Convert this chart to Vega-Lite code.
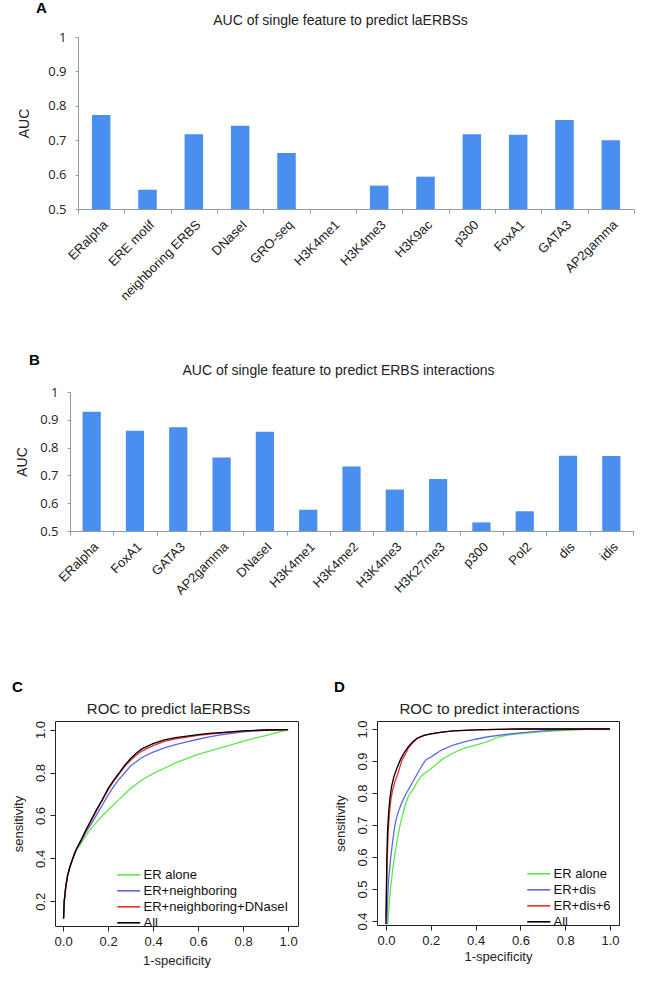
{
  "$schema": "https://vega.github.io/schema/vega-lite/v6.json",
  "padding": {"left": 11, "top": 1, "right": 0, "bottom": 0},
  "background": "white",
  "config": {
    "font": "Liberation Sans",
    "view": {"stroke": null},
    "axis": {"grid": false, "labelFont": "Liberation Sans", "titleFont": "Liberation Sans", "titleFontWeight": "normal", "labelColor": "#222", "titleColor": "#222"},
    "title": {"font": "Liberation Sans", "color": "#000"}
  },
  "datasets": {
    "aucA": [
      {"feature": "ERalpha", "auc": 0.773},
      {"feature": "ERE motif", "auc": 0.556},
      {"feature": "neighboring ERBS", "auc": 0.717},
      {"feature": "DNaseI", "auc": 0.742},
      {"feature": "GRO-seq", "auc": 0.663},
      {"feature": "H3K4me1", "auc": 0.5},
      {"feature": "H3K4me3", "auc": 0.568},
      {"feature": "H3K9ac", "auc": 0.594},
      {"feature": "p300", "auc": 0.717},
      {"feature": "FoxA1", "auc": 0.716},
      {"feature": "GATA3", "auc": 0.759},
      {"feature": "AP2gamma", "auc": 0.7}
    ],
    "aucB": [
      {"feature": "ERalpha", "auc": 0.929},
      {"feature": "FoxA1", "auc": 0.861},
      {"feature": "GATA3", "auc": 0.873},
      {"feature": "AP2gamma", "auc": 0.764},
      {"feature": "DNaseI", "auc": 0.857},
      {"feature": "H3K4me1", "auc": 0.576},
      {"feature": "H3K4me2", "auc": 0.732},
      {"feature": "H3K4me3", "auc": 0.649},
      {"feature": "H3K27me3", "auc": 0.687},
      {"feature": "p300", "auc": 0.531},
      {"feature": "Pol2", "auc": 0.571},
      {"feature": "dis", "auc": 0.771},
      {"feature": "idis", "auc": 0.77}
    ],
    "rocC": [
      {"model": "ER alone", "fpr": 0.002, "tpr": 0.12},
      {"model": "ER alone", "fpr": 0.005, "tpr": 0.2},
      {"model": "ER alone", "fpr": 0.012, "tpr": 0.27},
      {"model": "ER alone", "fpr": 0.02, "tpr": 0.32},
      {"model": "ER alone", "fpr": 0.03, "tpr": 0.36},
      {"model": "ER alone", "fpr": 0.04, "tpr": 0.39},
      {"model": "ER alone", "fpr": 0.05, "tpr": 0.415},
      {"model": "ER alone", "fpr": 0.06, "tpr": 0.44},
      {"model": "ER alone", "fpr": 0.08, "tpr": 0.47},
      {"model": "ER alone", "fpr": 0.1, "tpr": 0.505},
      {"model": "ER alone", "fpr": 0.125, "tpr": 0.54},
      {"model": "ER alone", "fpr": 0.15, "tpr": 0.57},
      {"model": "ER alone", "fpr": 0.175, "tpr": 0.6},
      {"model": "ER alone", "fpr": 0.2, "tpr": 0.625},
      {"model": "ER alone", "fpr": 0.25, "tpr": 0.675},
      {"model": "ER alone", "fpr": 0.3, "tpr": 0.725},
      {"model": "ER alone", "fpr": 0.35, "tpr": 0.765},
      {"model": "ER alone", "fpr": 0.4, "tpr": 0.795},
      {"model": "ER alone", "fpr": 0.45, "tpr": 0.82},
      {"model": "ER alone", "fpr": 0.5, "tpr": 0.845},
      {"model": "ER alone", "fpr": 0.55, "tpr": 0.865},
      {"model": "ER alone", "fpr": 0.6, "tpr": 0.885},
      {"model": "ER alone", "fpr": 0.65, "tpr": 0.9},
      {"model": "ER alone", "fpr": 0.7, "tpr": 0.915},
      {"model": "ER alone", "fpr": 0.75, "tpr": 0.93},
      {"model": "ER alone", "fpr": 0.8, "tpr": 0.945},
      {"model": "ER alone", "fpr": 0.85, "tpr": 0.96},
      {"model": "ER alone", "fpr": 0.9, "tpr": 0.972},
      {"model": "ER alone", "fpr": 0.95, "tpr": 0.986},
      {"model": "ER alone", "fpr": 1.0, "tpr": 1.0},
      {"model": "ER+neighboring", "fpr": 0.002, "tpr": 0.12},
      {"model": "ER+neighboring", "fpr": 0.005, "tpr": 0.2},
      {"model": "ER+neighboring", "fpr": 0.012, "tpr": 0.27},
      {"model": "ER+neighboring", "fpr": 0.02, "tpr": 0.32},
      {"model": "ER+neighboring", "fpr": 0.03, "tpr": 0.36},
      {"model": "ER+neighboring", "fpr": 0.04, "tpr": 0.39},
      {"model": "ER+neighboring", "fpr": 0.05, "tpr": 0.42},
      {"model": "ER+neighboring", "fpr": 0.06, "tpr": 0.445},
      {"model": "ER+neighboring", "fpr": 0.08, "tpr": 0.48},
      {"model": "ER+neighboring", "fpr": 0.1, "tpr": 0.52},
      {"model": "ER+neighboring", "fpr": 0.125, "tpr": 0.56},
      {"model": "ER+neighboring", "fpr": 0.15, "tpr": 0.605},
      {"model": "ER+neighboring", "fpr": 0.175, "tpr": 0.65},
      {"model": "ER+neighboring", "fpr": 0.2, "tpr": 0.695},
      {"model": "ER+neighboring", "fpr": 0.225, "tpr": 0.735},
      {"model": "ER+neighboring", "fpr": 0.25, "tpr": 0.77},
      {"model": "ER+neighboring", "fpr": 0.275, "tpr": 0.8},
      {"model": "ER+neighboring", "fpr": 0.3, "tpr": 0.83},
      {"model": "ER+neighboring", "fpr": 0.35, "tpr": 0.87},
      {"model": "ER+neighboring", "fpr": 0.4, "tpr": 0.895},
      {"model": "ER+neighboring", "fpr": 0.45, "tpr": 0.915},
      {"model": "ER+neighboring", "fpr": 0.5, "tpr": 0.93},
      {"model": "ER+neighboring", "fpr": 0.55, "tpr": 0.943},
      {"model": "ER+neighboring", "fpr": 0.6, "tpr": 0.955},
      {"model": "ER+neighboring", "fpr": 0.65, "tpr": 0.966},
      {"model": "ER+neighboring", "fpr": 0.7, "tpr": 0.975},
      {"model": "ER+neighboring", "fpr": 0.8, "tpr": 0.99},
      {"model": "ER+neighboring", "fpr": 0.9, "tpr": 0.997},
      {"model": "ER+neighboring", "fpr": 1.0, "tpr": 1.0},
      {"model": "ER+neighboring+DNaseI", "fpr": 0.002, "tpr": 0.12},
      {"model": "ER+neighboring+DNaseI", "fpr": 0.005, "tpr": 0.2},
      {"model": "ER+neighboring+DNaseI", "fpr": 0.012, "tpr": 0.27},
      {"model": "ER+neighboring+DNaseI", "fpr": 0.02, "tpr": 0.32},
      {"model": "ER+neighboring+DNaseI", "fpr": 0.03, "tpr": 0.36},
      {"model": "ER+neighboring+DNaseI", "fpr": 0.04, "tpr": 0.39},
      {"model": "ER+neighboring+DNaseI", "fpr": 0.05, "tpr": 0.42},
      {"model": "ER+neighboring+DNaseI", "fpr": 0.06, "tpr": 0.445},
      {"model": "ER+neighboring+DNaseI", "fpr": 0.08, "tpr": 0.485},
      {"model": "ER+neighboring+DNaseI", "fpr": 0.1, "tpr": 0.525},
      {"model": "ER+neighboring+DNaseI", "fpr": 0.125, "tpr": 0.575},
      {"model": "ER+neighboring+DNaseI", "fpr": 0.15, "tpr": 0.625},
      {"model": "ER+neighboring+DNaseI", "fpr": 0.175, "tpr": 0.672},
      {"model": "ER+neighboring+DNaseI", "fpr": 0.2, "tpr": 0.72},
      {"model": "ER+neighboring+DNaseI", "fpr": 0.225, "tpr": 0.76},
      {"model": "ER+neighboring+DNaseI", "fpr": 0.25, "tpr": 0.795},
      {"model": "ER+neighboring+DNaseI", "fpr": 0.275, "tpr": 0.83},
      {"model": "ER+neighboring+DNaseI", "fpr": 0.3, "tpr": 0.857},
      {"model": "ER+neighboring+DNaseI", "fpr": 0.325, "tpr": 0.88},
      {"model": "ER+neighboring+DNaseI", "fpr": 0.35, "tpr": 0.9},
      {"model": "ER+neighboring+DNaseI", "fpr": 0.4, "tpr": 0.925},
      {"model": "ER+neighboring+DNaseI", "fpr": 0.45, "tpr": 0.945},
      {"model": "ER+neighboring+DNaseI", "fpr": 0.5, "tpr": 0.957},
      {"model": "ER+neighboring+DNaseI", "fpr": 0.55, "tpr": 0.965},
      {"model": "ER+neighboring+DNaseI", "fpr": 0.6, "tpr": 0.973},
      {"model": "ER+neighboring+DNaseI", "fpr": 0.65, "tpr": 0.979},
      {"model": "ER+neighboring+DNaseI", "fpr": 0.7, "tpr": 0.984},
      {"model": "ER+neighboring+DNaseI", "fpr": 0.8, "tpr": 0.993},
      {"model": "ER+neighboring+DNaseI", "fpr": 0.9, "tpr": 0.998},
      {"model": "ER+neighboring+DNaseI", "fpr": 1.0, "tpr": 1.0},
      {"model": "All", "fpr": 0.002, "tpr": 0.12},
      {"model": "All", "fpr": 0.005, "tpr": 0.2},
      {"model": "All", "fpr": 0.012, "tpr": 0.27},
      {"model": "All", "fpr": 0.02, "tpr": 0.32},
      {"model": "All", "fpr": 0.03, "tpr": 0.36},
      {"model": "All", "fpr": 0.04, "tpr": 0.39},
      {"model": "All", "fpr": 0.05, "tpr": 0.42},
      {"model": "All", "fpr": 0.06, "tpr": 0.445},
      {"model": "All", "fpr": 0.08, "tpr": 0.485},
      {"model": "All", "fpr": 0.1, "tpr": 0.53},
      {"model": "All", "fpr": 0.125, "tpr": 0.58},
      {"model": "All", "fpr": 0.15, "tpr": 0.63},
      {"model": "All", "fpr": 0.175, "tpr": 0.675},
      {"model": "All", "fpr": 0.2, "tpr": 0.725},
      {"model": "All", "fpr": 0.225, "tpr": 0.765},
      {"model": "All", "fpr": 0.25, "tpr": 0.8},
      {"model": "All", "fpr": 0.275, "tpr": 0.835},
      {"model": "All", "fpr": 0.3, "tpr": 0.865},
      {"model": "All", "fpr": 0.325, "tpr": 0.89},
      {"model": "All", "fpr": 0.35, "tpr": 0.91},
      {"model": "All", "fpr": 0.4, "tpr": 0.935},
      {"model": "All", "fpr": 0.45, "tpr": 0.952},
      {"model": "All", "fpr": 0.5, "tpr": 0.963},
      {"model": "All", "fpr": 0.55, "tpr": 0.97},
      {"model": "All", "fpr": 0.6, "tpr": 0.977},
      {"model": "All", "fpr": 0.65, "tpr": 0.982},
      {"model": "All", "fpr": 0.7, "tpr": 0.986},
      {"model": "All", "fpr": 0.8, "tpr": 0.994},
      {"model": "All", "fpr": 0.9, "tpr": 0.998},
      {"model": "All", "fpr": 1.0, "tpr": 1.0}
    ],
    "rocD": [
      {"model": "ER alone", "fpr": 0.008, "tpr": 0.39},
      {"model": "ER alone", "fpr": 0.014, "tpr": 0.45},
      {"model": "ER alone", "fpr": 0.02, "tpr": 0.5},
      {"model": "ER alone", "fpr": 0.03, "tpr": 0.56},
      {"model": "ER alone", "fpr": 0.04, "tpr": 0.61},
      {"model": "ER alone", "fpr": 0.05, "tpr": 0.65},
      {"model": "ER alone", "fpr": 0.06, "tpr": 0.69},
      {"model": "ER alone", "fpr": 0.07, "tpr": 0.72},
      {"model": "ER alone", "fpr": 0.085, "tpr": 0.76},
      {"model": "ER alone", "fpr": 0.1, "tpr": 0.79},
      {"model": "ER alone", "fpr": 0.12, "tpr": 0.81},
      {"model": "ER alone", "fpr": 0.14, "tpr": 0.835},
      {"model": "ER alone", "fpr": 0.16, "tpr": 0.855},
      {"model": "ER alone", "fpr": 0.18, "tpr": 0.865},
      {"model": "ER alone", "fpr": 0.2, "tpr": 0.875},
      {"model": "ER alone", "fpr": 0.25, "tpr": 0.905},
      {"model": "ER alone", "fpr": 0.3, "tpr": 0.925},
      {"model": "ER alone", "fpr": 0.35, "tpr": 0.94},
      {"model": "ER alone", "fpr": 0.4, "tpr": 0.95},
      {"model": "ER alone", "fpr": 0.45, "tpr": 0.96},
      {"model": "ER alone", "fpr": 0.5, "tpr": 0.975},
      {"model": "ER alone", "fpr": 0.55, "tpr": 0.982},
      {"model": "ER alone", "fpr": 0.6, "tpr": 0.986},
      {"model": "ER alone", "fpr": 0.7, "tpr": 0.992},
      {"model": "ER alone", "fpr": 0.8, "tpr": 0.996},
      {"model": "ER alone", "fpr": 0.9, "tpr": 0.999},
      {"model": "ER alone", "fpr": 1.0, "tpr": 1.0},
      {"model": "ER+dis", "fpr": 0.003, "tpr": 0.39},
      {"model": "ER+dis", "fpr": 0.008, "tpr": 0.48},
      {"model": "ER+dis", "fpr": 0.012, "tpr": 0.53},
      {"model": "ER+dis", "fpr": 0.02, "tpr": 0.59},
      {"model": "ER+dis", "fpr": 0.03, "tpr": 0.65},
      {"model": "ER+dis", "fpr": 0.04, "tpr": 0.7},
      {"model": "ER+dis", "fpr": 0.05, "tpr": 0.73},
      {"model": "ER+dis", "fpr": 0.065, "tpr": 0.76},
      {"model": "ER+dis", "fpr": 0.08, "tpr": 0.785},
      {"model": "ER+dis", "fpr": 0.1, "tpr": 0.81},
      {"model": "ER+dis", "fpr": 0.12, "tpr": 0.835},
      {"model": "ER+dis", "fpr": 0.14, "tpr": 0.86},
      {"model": "ER+dis", "fpr": 0.16, "tpr": 0.885},
      {"model": "ER+dis", "fpr": 0.18, "tpr": 0.905},
      {"model": "ER+dis", "fpr": 0.2, "tpr": 0.912},
      {"model": "ER+dis", "fpr": 0.25, "tpr": 0.935},
      {"model": "ER+dis", "fpr": 0.3, "tpr": 0.95},
      {"model": "ER+dis", "fpr": 0.35, "tpr": 0.96},
      {"model": "ER+dis", "fpr": 0.4, "tpr": 0.968},
      {"model": "ER+dis", "fpr": 0.45, "tpr": 0.975},
      {"model": "ER+dis", "fpr": 0.5, "tpr": 0.98},
      {"model": "ER+dis", "fpr": 0.6, "tpr": 0.988},
      {"model": "ER+dis", "fpr": 0.7, "tpr": 0.994},
      {"model": "ER+dis", "fpr": 0.8, "tpr": 0.998},
      {"model": "ER+dis", "fpr": 0.9, "tpr": 1.0},
      {"model": "ER+dis", "fpr": 1.0, "tpr": 1.0},
      {"model": "ER+dis+6", "fpr": 0.0, "tpr": 0.41},
      {"model": "ER+dis+6", "fpr": 0.003, "tpr": 0.5},
      {"model": "ER+dis+6", "fpr": 0.006, "tpr": 0.6},
      {"model": "ER+dis+6", "fpr": 0.01, "tpr": 0.68},
      {"model": "ER+dis+6", "fpr": 0.016, "tpr": 0.74},
      {"model": "ER+dis+6", "fpr": 0.022, "tpr": 0.78},
      {"model": "ER+dis+6", "fpr": 0.03, "tpr": 0.81},
      {"model": "ER+dis+6", "fpr": 0.04, "tpr": 0.835},
      {"model": "ER+dis+6", "fpr": 0.055, "tpr": 0.865},
      {"model": "ER+dis+6", "fpr": 0.07, "tpr": 0.9},
      {"model": "ER+dis+6", "fpr": 0.085, "tpr": 0.92},
      {"model": "ER+dis+6", "fpr": 0.1, "tpr": 0.94},
      {"model": "ER+dis+6", "fpr": 0.12, "tpr": 0.958},
      {"model": "ER+dis+6", "fpr": 0.14, "tpr": 0.97},
      {"model": "ER+dis+6", "fpr": 0.17, "tpr": 0.98},
      {"model": "ER+dis+6", "fpr": 0.2, "tpr": 0.985},
      {"model": "ER+dis+6", "fpr": 0.25, "tpr": 0.99},
      {"model": "ER+dis+6", "fpr": 0.3, "tpr": 0.994},
      {"model": "ER+dis+6", "fpr": 0.4, "tpr": 0.997},
      {"model": "ER+dis+6", "fpr": 0.5, "tpr": 0.999},
      {"model": "ER+dis+6", "fpr": 0.6, "tpr": 1.0},
      {"model": "ER+dis+6", "fpr": 1.0, "tpr": 1.0},
      {"model": "All", "fpr": 0.0, "tpr": 0.39},
      {"model": "All", "fpr": 0.002, "tpr": 0.5},
      {"model": "All", "fpr": 0.004, "tpr": 0.6},
      {"model": "All", "fpr": 0.007, "tpr": 0.68},
      {"model": "All", "fpr": 0.012, "tpr": 0.74},
      {"model": "All", "fpr": 0.018, "tpr": 0.785},
      {"model": "All", "fpr": 0.025, "tpr": 0.82},
      {"model": "All", "fpr": 0.035, "tpr": 0.85},
      {"model": "All", "fpr": 0.05, "tpr": 0.88},
      {"model": "All", "fpr": 0.065, "tpr": 0.905},
      {"model": "All", "fpr": 0.08, "tpr": 0.925},
      {"model": "All", "fpr": 0.1, "tpr": 0.945},
      {"model": "All", "fpr": 0.12, "tpr": 0.96},
      {"model": "All", "fpr": 0.14, "tpr": 0.972},
      {"model": "All", "fpr": 0.17, "tpr": 0.98},
      {"model": "All", "fpr": 0.2, "tpr": 0.985},
      {"model": "All", "fpr": 0.25, "tpr": 0.99},
      {"model": "All", "fpr": 0.3, "tpr": 0.994},
      {"model": "All", "fpr": 0.4, "tpr": 0.997},
      {"model": "All", "fpr": 0.5, "tpr": 0.999},
      {"model": "All", "fpr": 0.6, "tpr": 1.0},
      {"model": "All", "fpr": 1.0, "tpr": 1.0}
    ]
  },
  "columns": 1,
  "align": "none",
  "spacing": 50,
  "concat": [
    {
      "width": 579,
      "height": 172,
      "data": {"name": "aucA"},
      "title": {"text": "A", "anchor": "start", "frame": "group", "dx": -19, "dy": 3, "fontSize": 15, "fontWeight": "bold", "offset": 0},
      "encoding": {
        "y": {"field": "auc", "type": "quantitative", "scale": {"domain": [0.5, 1], "zero": false, "nice": false},
          "axis": {"title": "AUC", "offset": -23, "values": [0.5, 0.6, 0.7, 0.8, 0.9, 1], "format": "~g", "tickSize": 3, "labelPadding": 9, "labelFont": "Open Sans", "labelFontSize": 13, "titleFontSize": 14, "titlePadding": 16, "domainColor": "#8c9cab", "tickColor": "#8c9cab"}},
        "y2": {"datum": 0.5}
      },
      "layer": [
        {
          "mark": {"type": "bar", "color": "#4a8ef0", "width": {"band": 0.4}},
          "encoding": {
            "x": {"field": "feature", "type": "nominal", "sort": null, "scale": {"paddingInner": 0, "paddingOuter": 0, "range": [23, 579]},
              "axis": {"title": null, "labelAngle": -45, "labelFontSize": 13, "labelPadding": 5, "tickBand": "extent", "tickSize": 4, "domainColor": "#8c9cab", "tickColor": "#8c9cab"}}
          }
        },
        {
          "mark": {"type": "bar", "opacity": 0},
          "encoding": {
            "x": {"field": "feature", "type": "nominal", "sort": null,
              "axis": {"orient": "top", "labels": false, "ticks": false, "domain": false, "title": "AUC of single feature to predict laERBSs", "titleFontSize": 14, "titlePadding": 10, "titleX": 285}}
          }
        }
      ],
      "resolve": {"axis": {"x": "independent"}}
    },
    {
      "width": 578,
      "height": 139,
      "data": {"name": "aucB"},
      "title": {"text": "B", "anchor": "start", "frame": "group", "dx": -26, "dy": 5, "fontSize": 15, "fontWeight": "bold", "offset": 0},
      "encoding": {
        "y": {"field": "auc", "type": "quantitative", "scale": {"domain": [0.5, 1], "zero": false, "nice": false},
          "axis": {"title": "AUC", "offset": -15, "values": [0.5, 0.6, 0.7, 0.8, 0.9, 1], "format": "~g", "tickSize": 3, "labelPadding": 9, "labelFont": "Open Sans", "labelFontSize": 13, "titleFontSize": 14, "titlePadding": 10, "domainColor": "#8c9cab", "tickColor": "#8c9cab"}},
        "y2": {"datum": 0.5}
      },
      "layer": [
        {
          "mark": {"type": "bar", "color": "#4a8ef0", "width": {"band": 0.42}},
          "encoding": {
            "x": {"field": "feature", "type": "nominal", "sort": null, "scale": {"paddingInner": 0, "paddingOuter": 0, "range": [15, 578]},
              "axis": {"title": " ", "titleFontSize": 13, "titlePadding": 18, "labelAngle": -45, "labelFontSize": 13, "labelPadding": 5, "tickBand": "extent", "tickSize": 4, "domainColor": "#8c9cab", "tickColor": "#8c9cab"}}
          }
        },
        {
          "mark": {"type": "bar", "opacity": 0},
          "encoding": {
            "x": {"field": "feature", "type": "nominal", "sort": null,
              "axis": {"orient": "top", "labels": false, "ticks": false, "domain": false, "title": "AUC of single feature to predict ERBS interactions", "titleFontSize": 14, "titlePadding": 15, "titleX": 283}}
          }
        }
      ],
      "resolve": {"axis": {"x": "independent"}}
    },
    {
      "spacing": 79,
      "bounds": "flush",
      "resolve": {"scale": {"color": "independent"}, "legend": {"color": "independent"}},
      "hconcat": [
        {
          "width": 243,
          "height": 205,
          "view": {"stroke": "#222", "strokeWidth": 1},
          "data": {"name": "rocC"},
          "title": {"text": "C", "anchor": "start", "frame": "bounds", "align": "left", "dy": -6, "fontSize": 15, "fontWeight": "bold", "offset": 0},
          "encoding": {
            "y": {"field": "tpr", "type": "quantitative", "scale": {"domain": [0.085, 1.04], "zero": false, "nice": false},
              "axis": {"title": "sensitivity", "values": [0.2, 0.4, 0.6, 0.8, 1.0], "format": ".1f", "labelAngle": -90, "labelAlign": "center", "labelBaseline": "bottom", "labelFontSize": 13, "labelPadding": 3, "tickSize": 5, "tickColor": "#222", "domain": false, "titleFontSize": 13, "titlePadding": 9}}
          },
          "layer": [
            {
              "mark": {"type": "line", "strokeWidth": 1.3, "clip": true},
              "encoding": {
                "x": {"field": "fpr", "type": "quantitative", "scale": {"domain": [-0.036, 1.044], "zero": false, "nice": false},
                  "axis": {"title": "1-specificity", "values": [0, 0.2, 0.4, 0.6, 0.8, 1.0], "format": ".1f", "labelFontSize": 13, "labelPadding": 4, "tickSize": 5, "tickColor": "#222", "domain": false, "titleFontSize": 13, "titlePadding": 6}},
                "color": {"field": "model", "type": "nominal",
                  "scale": {"domain": ["ER alone", "ER+neighboring", "ER+neighboring+DNaseI", "All"], "range": ["#5be84a", "#5a67e6", "#ee2a2a", "#000000"]},
                  "legend": {"orient": "none", "legendX": 66.75, "legendY": 146.8, "title": null, "symbolType": "M-2,0L2,0", "symbolSize": 132, "symbolStrokeWidth": 1.6, "labelFontSize": 13, "labelOffset": 7.75, "rowPadding": 2, "padding": 0, "labelColor": "#111"}}
              }
            },
            {
              "mark": {"type": "point", "opacity": 0},
              "encoding": {
                "x": {"field": "fpr", "type": "quantitative",
                  "axis": {"orient": "top", "labels": false, "ticks": false, "domain": false, "title": "ROC to predict laERBSs", "titleFontSize": 15, "titlePadding": 5, "titleX": 113}}
              }
            }
          ],
          "resolve": {"axis": {"x": "independent"}}
        },
        {
          "width": 242,
          "height": 204,
          "view": {"stroke": "#222", "strokeWidth": 1},
          "data": {"name": "rocD"},
          "title": {"text": "D", "anchor": "start", "frame": "bounds", "align": "left", "dy": -6, "fontSize": 15, "fontWeight": "bold", "offset": 0},
          "encoding": {
            "y": {"field": "tpr", "type": "quantitative", "scale": {"domain": [0.3875, 1.025], "zero": false, "nice": false},
              "axis": {"title": "sensitivity", "values": [0.4, 0.5, 0.6, 0.7, 0.8, 0.9, 1.0], "format": ".1f", "labelAngle": -90, "labelAlign": "center", "labelBaseline": "bottom", "labelFontSize": 13, "labelPadding": 3, "tickSize": 5, "tickColor": "#222", "domain": false, "titleFontSize": 13, "titlePadding": 9}}
          },
          "layer": [
            {
              "mark": {"type": "line", "strokeWidth": 1.3, "clip": true},
              "encoding": {
                "x": {"field": "fpr", "type": "quantitative", "scale": {"domain": [-0.04, 1.04], "zero": false, "nice": false},
                  "axis": {"title": "1-specificity", "values": [0, 0.2, 0.4, 0.6, 0.8, 1.0], "format": ".1f", "labelFontSize": 13, "labelPadding": 4, "tickSize": 5, "tickColor": "#222", "domain": false, "titleFontSize": 13, "titlePadding": 3}},
                "color": {"field": "model", "type": "nominal",
                  "scale": {"domain": ["ER alone", "ER+dis", "ER+dis+6", "All"], "range": ["#5be84a", "#5a67e6", "#ee2a2a", "#000000"]},
                  "legend": {"orient": "none", "legendX": 154.75, "legendY": 145.8, "title": null, "symbolType": "M-2,0L2,0", "symbolSize": 132, "symbolStrokeWidth": 1.6, "labelFontSize": 13, "labelOffset": 7.75, "rowPadding": 2, "padding": 0, "labelColor": "#111"}}
              }
            },
            {
              "mark": {"type": "point", "opacity": 0},
              "encoding": {
                "x": {"field": "fpr", "type": "quantitative",
                  "axis": {"orient": "top", "labels": false, "ticks": false, "domain": false, "title": "ROC to predict interactions", "titleFontSize": 15, "titlePadding": 5, "titleX": 112}}
              }
            }
          ],
          "resolve": {"axis": {"x": "independent"}}
        }
      ]
    }
  ]
}
